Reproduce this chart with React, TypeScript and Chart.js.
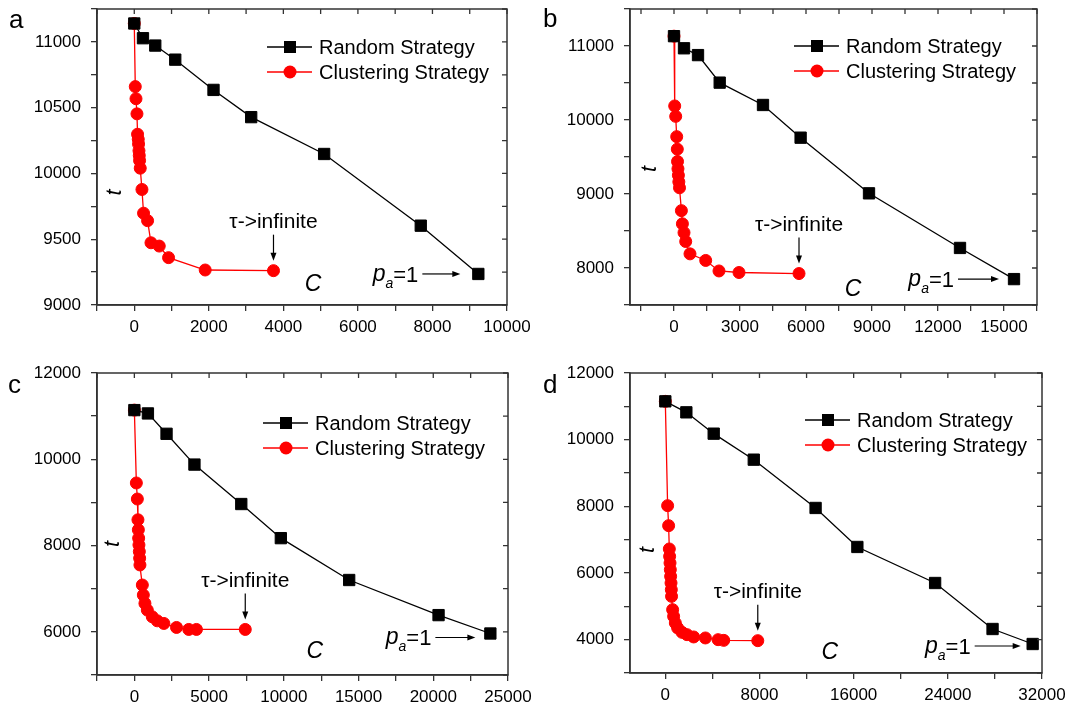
import React, { useEffect, useRef } from 'react';
import { Chart, registerables } from 'chart.js';

Chart.register(...registerables);

// ---------- DATA ----------
// Panel a
const aRandomC = [0, 233, 563, 1099, 2126, 3137, 5094, 7686, 9231];
const aRandomT = [11140, 11028, 10972, 10865, 10635, 10428, 10148, 9603, 9236];
const aClusterC = [0, 27, 46, 72, 88, 107, 115, 126, 134, 142, 160, 206, 249, 357, 448, 670, 920, 1903, 3735];
const aClusterT = [11140, 10660, 10568, 10453, 10298, 10260, 10223, 10173, 10136, 10098, 10040, 9878, 9698, 9641, 9473, 9448, 9360, 9266, 9261];
const aXTickLabels = [0, 2000, 4000, 6000, 8000, 10000];
const aYTickLabels = [9000, 9500, 10000, 10500, 11000];

// Panel b
const bRandomC = [0, 455, 1091, 2077, 4045, 5755, 8864, 13000, 15455];
const bRandomT = [11133, 10969, 10877, 10505, 10203, 9761, 9009, 8271, 7850];
const bClusterC = [0, 32, 77, 123, 150, 160, 180, 200, 220, 250, 336, 382, 455, 532, 727, 1441, 2045, 2955, 5682];
const bClusterT = [11133, 10190, 10049, 9775, 9606, 9439, 9341, 9253, 9164, 9084, 8775, 8597, 8478, 8358, 8191, 8102, 7960, 7939, 7925];
const bXTickLabels = [0, 3000, 6000, 9000, 12000, 15000];
const bYTickLabels = [8000, 9000, 10000, 11000];

// Panel c
const cRandomC = [0, 907, 2153, 4020, 7153, 9800, 14373, 20353, 23820];
const cRandomT = [11140, 11063, 10591, 9877, 8963, 8172, 7202, 6388, 5962];
const cClusterC = [0, 133, 200, 240, 267, 287, 307, 333, 353, 373, 533, 600, 707, 867, 1200, 1533, 1973, 2820, 3640, 4153, 7420];
const cClusterT = [11140, 9451, 9079, 8598, 8365, 8172, 8016, 7860, 7707, 7551, 7086, 6853, 6660, 6505, 6349, 6256, 6195, 6102, 6056, 6056, 6056];
const cXTickLabels = [0, 5000, 10000, 15000, 20000, 25000];
const cYTickLabels = [6000, 8000, 10000, 12000];

// Panel d
const dRandomC = [0, 1787, 4110, 7515, 12766, 16315, 22920, 27800, 31207];
const dRandomT = [11150, 10820, 10180, 9400, 7951, 6781, 5700, 4320, 3870];
const dClusterC = [0, 196, 281, 340, 366, 400, 426, 451, 485, 511, 530, 621, 706, 851, 1047, 1421, 1847, 2409, 3404, 4485, 4962, 7855];
const dClusterT = [11150, 8020, 7420, 6721, 6499, 6301, 6100, 5899, 5701, 5500, 5299, 4900, 4699, 4501, 4351, 4219, 4150, 4081, 4051, 4000, 3979, 3970];
const dXTickLabels = [0, 8000, 16000, 24000, 32000];
const dYTickLabels = [4000, 6000, 8000, 10000, 12000];

const seriesNames = ['Random Strategy', 'Clustering Strategy'];
const panelLetters = ['a', 'b', 'c', 'd'];
const tauLabel = 'τ->infinite';

// ---------- STYLE / LAYOUT ----------
const FONT = '"Liberation Sans", Arial, Helvetica, sans-serif';
const AXIS_COLOR = '#333333';
const RED = '#ff0000';

type Panel = {
  letter: string;
  left: number; top: number; width: number; height: number;
  padTop: number; padRight: number; yW: number; xH: number;
  xMin: number; xMax: number; xStep: number; xLabels: number[];
  yMin: number; yMax: number; yStep: number; yLabels: number[];
  rC: number[]; rT: number[]; cC: number[]; cT: number[];
  legendX: number; legendY: number;
  cFracX: number; cUp: number; tX: number; tFracY: number;
  paDx: number; paArrowEnd: number; paDy: number;
  letterX: number; letterY: number;
};

const panels: Panel[] = [
  {
    letter: panelLetters[0], left: 0, top: 0, width: 537, height: 354,
    padTop: 3, padRight: 30, yW: 97, xH: 49,
    xMin: -1000, xMax: 10000, xStep: 1000, xLabels: aXTickLabels,
    yMin: 9000, yMax: 11250, yStep: 250, yLabels: aYTickLabels,
    rC: aRandomC, rT: aRandomT, cC: aClusterC, cT: aClusterT,
    legendX: 170, legendY: 38, cFracX: 0.527, cUp: 20, tX: 18, tFracY: 0.62,
    paDx: 60, paArrowEnd: 18, paDy: 0, letterX: 9, letterY: 28,
  },
  {
    letter: panelLetters[1], left: 537, top: 0, width: 537, height: 354,
    padTop: 3, padRight: 37, yW: 93, xH: 49,
    xMin: -2000, xMax: 16500, xStep: 1500, xLabels: bXTickLabels,
    yMin: 7500, yMax: 11500, yStep: 500, yLabels: bYTickLabels,
    rC: bRandomC, rT: bRandomT, cC: bClusterC, cT: bClusterT,
    legendX: 164, legendY: 37, cFracX: 0.548, cUp: 15, tX: 20, tFracY: 0.54,
    paDx: 60, paArrowEnd: 15, paDy: 0, letterX: 6, letterY: 27,
  },
  {
    letter: panelLetters[2], left: 0, top: 354, width: 537, height: 355,
    padTop: 19, padRight: 29, yW: 97, xH: 34,
    xMin: -2500, xMax: 25000, xStep: 2500, xLabels: cXTickLabels,
    yMin: 5000, yMax: 12000, yStep: 1000, yLabels: cYTickLabels,
    rC: cRandomC, rT: cRandomT, cC: cClusterC, cT: cClusterT,
    legendX: 166, legendY: 50, cFracX: 0.53, cUp: 23, tX: 16, tFracY: 0.566,
    paDx: 59, paArrowEnd: 15, paDy: 4, letterX: 8, letterY: 39,
  },
  {
    letter: panelLetters[3], left: 537, top: 354, width: 537, height: 355,
    padTop: 19, padRight: 32, yW: 93, xH: 36,
    xMin: -3000, xMax: 32000, xStep: 4000, xLabels: dXTickLabels,
    yMin: 3000, yMax: 12000, yStep: 1000, yLabels: dYTickLabels,
    rC: dRandomC, rT: dRandomT, cC: dClusterC, cT: dClusterT,
    legendX: 175, legendY: 47, cFracX: 0.485, cUp: 20, tX: 18, tFracY: 0.59,
    paDx: 62, paArrowEnd: 12, paDy: 2, letterX: 6, letterY: 39,
  },
];

function makeTicks(min: number, max: number, step: number) {
  const out: { value: number }[] = [];
  for (let v = Math.ceil(min / step) * step; v <= max + 1e-6; v += step) out.push({ value: v });
  return out;
}

function arrow(ctx: CanvasRenderingContext2D, x1: number, y1: number, x2: number, y2: number) {
  const ang = Math.atan2(y2 - y1, x2 - x1);
  const head = 8;
  ctx.beginPath();
  ctx.moveTo(x1, y1);
  ctx.lineTo(x2 - Math.cos(ang) * head * 0.8, y2 - Math.sin(ang) * head * 0.8);
  ctx.stroke();
  ctx.beginPath();
  ctx.moveTo(x2, y2);
  ctx.lineTo(x2 - head * Math.cos(ang) + 3 * Math.sin(ang), y2 - head * Math.sin(ang) - 3 * Math.cos(ang));
  ctx.lineTo(x2 - head * Math.cos(ang) - 3 * Math.sin(ang), y2 - head * Math.sin(ang) + 3 * Math.cos(ang));
  ctx.closePath();
  ctx.fill();
}

function makePlugin(p: Panel) {
  return {
    id: 'decor' + p.letter,
    afterDraw(chart: any) {
      const ctx: CanvasRenderingContext2D = chart.ctx;
      const area = chart.chartArea;
      const xs = chart.scales.x;
      const ys = chart.scales.y;
      ctx.save();
      // frame
      ctx.strokeStyle = AXIS_COLOR;
      ctx.lineWidth = 1.5;
      ctx.strokeRect(area.left, area.top, area.right - area.left, area.bottom - area.top);
      // inward mirror ticks
      ctx.lineWidth = 1.3;
      ctx.beginPath();
      xs.ticks.forEach((t: any) => {
        const px = xs.getPixelForValue(t.value);
        ctx.moveTo(px, area.top);
        ctx.lineTo(px, area.top + 5);
      });
      ys.ticks.forEach((t: any) => {
        const py = ys.getPixelForValue(t.value);
        ctx.moveTo(area.right, py);
        ctx.lineTo(area.right - 5, py);
      });
      ctx.stroke();

      // legend
      const lx = area.left + p.legendX;
      const ly = area.top + p.legendY;
      const rows = [
        { color: '#000000', shape: 'rect' },
        { color: RED, shape: 'circle' },
      ];
      rows.forEach((r, i) => {
        const y = ly + i * 25;
        ctx.strokeStyle = r.color;
        ctx.fillStyle = r.color;
        ctx.lineWidth = 1.3;
        ctx.beginPath();
        ctx.moveTo(lx, y);
        ctx.lineTo(lx + 45, y);
        ctx.stroke();
        const cx = lx + 23;
        if (r.shape === 'rect') {
          ctx.fillRect(cx - 6, y - 6, 12, 12);
        } else {
          ctx.beginPath();
          ctx.arc(cx, y, 6.5, 0, Math.PI * 2);
          ctx.fill();
        }
        ctx.fillStyle = '#000';
        ctx.font = `20px ${FONT}`;
        ctx.textAlign = 'left';
        ctx.textBaseline = 'middle';
        ctx.fillText(seriesNames[i], lx + 52, y + 1);
      });

      ctx.fillStyle = '#000';
      ctx.strokeStyle = '#000';
      ctx.lineWidth = 1.2;

      // tau annotation above last clustering point
      const lastCi = p.cC.length - 1;
      const tx = xs.getPixelForValue(p.cC[lastCi]);
      const ty = ys.getPixelForValue(p.cT[lastCi]);
      ctx.font = `21px ${FONT}`;
      ctx.textAlign = 'center';
      ctx.textBaseline = 'middle';
      ctx.fillText(tauLabel, tx, ty - 48);
      arrow(ctx, tx, ty - 36, tx, ty - 10);

      // p_a = 1 annotation left of last random point
      const lastRi = p.rC.length - 1;
      const rx = xs.getPixelForValue(p.rC[lastRi]);
      const ry = ys.getPixelForValue(p.rT[lastRi]) + p.paDy;
      arrow(ctx, rx - p.paDx + 4, ry, rx - p.paArrowEnd, ry);
      ctx.textBaseline = 'alphabetic';
      ctx.textAlign = 'left';
      ctx.font = `22px ${FONT}`;
      const eqW = ctx.measureText('=1').width;
      ctx.font = `italic 14px ${FONT}`;
      const aW = ctx.measureText('a').width;
      ctx.font = `italic 23px ${FONT}`;
      const pW = ctx.measureText('p').width;
      const endX = rx - p.paDx;
      const startX = endX - eqW - aW - pW;
      ctx.fillText('p', startX, ry + 7);
      ctx.font = `italic 14px ${FONT}`;
      ctx.fillText('a', startX + pW, ry + 14);
      ctx.font = `22px ${FONT}`;
      ctx.fillText('=1', startX + pW + aW, ry + 8);

      // axis titles inside the plot
      ctx.font = `italic 23px ${FONT}`;
      ctx.textAlign = 'center';
      ctx.textBaseline = 'middle';
      ctx.fillText('C', area.left + p.cFracX * (area.right - area.left), area.bottom - p.cUp);
      ctx.save();
      ctx.translate(area.left + p.tX, area.top + p.tFracY * (area.bottom - area.top));
      ctx.rotate(-Math.PI / 2);
      ctx.font = `italic 22px ${FONT}`;
      ctx.fillText('t', 0, 0);
      ctx.restore();

      // panel letter
      ctx.font = `26px ${FONT}`;
      ctx.textAlign = 'left';
      ctx.textBaseline = 'alphabetic';
      ctx.fillText(p.letter, p.letterX, p.letterY);
      ctx.restore();
    },
  };
}

function PanelChart({ p }: { p: Panel }) {
  const ref = useRef<HTMLCanvasElement>(null);
  useEffect(() => {
    if (!ref.current) return;
    const tickFont = { family: FONT, size: 17 };
    const chart = new Chart(ref.current, {
      type: 'scatter',
      data: {
        datasets: [
          {
            label: seriesNames[0],
            data: p.rC.map((c, i) => ({ x: c, y: p.rT[i] })),
            showLine: true,
            borderColor: '#000000',
            backgroundColor: '#000000',
            borderWidth: 1.3,
            pointStyle: 'rect',
            pointRadius: 8,
            pointBorderWidth: 1,
            pointBorderColor: '#000000',
            pointBackgroundColor: '#000000',
          },
          {
            label: seriesNames[1],
            data: p.cC.map((c, i) => ({ x: c, y: p.cT[i] })),
            showLine: true,
            borderColor: RED,
            backgroundColor: RED,
            borderWidth: 1.3,
            pointStyle: 'circle',
            pointRadius: 6,
            pointBorderWidth: 1,
            pointBorderColor: RED,
            pointBackgroundColor: RED,
          },
        ],
      },
      options: {
        responsive: false,
        animation: false,
        devicePixelRatio: 1,
        layout: { padding: { top: p.padTop, right: p.padRight, left: 0, bottom: 0 } },
        plugins: { legend: { display: false }, tooltip: { enabled: false } },
        scales: {
          x: {
            type: 'linear',
            min: p.xMin,
            max: p.xMax,
            afterBuildTicks: (s: any) => { s.ticks = makeTicks(p.xMin, p.xMax, p.xStep); },
            afterFit: (s: any) => {
              s.height = p.xH;
              s.paddingLeft = 0;
              s.paddingRight = 0;
            },
            ticks: {
              autoSkip: false,
              maxRotation: 0,
              color: '#000',
              font: tickFont,
              padding: 6,
              callback: (v: any) => (p.xLabels.includes(Number(v)) ? String(v) : ''),
            },
            grid: { drawOnChartArea: false, tickLength: 6, color: AXIS_COLOR, lineWidth: 1.3 },
            border: { color: AXIS_COLOR, width: 1.5 },
          },
          y: {
            type: 'linear',
            min: p.yMin,
            max: p.yMax,
            afterBuildTicks: (s: any) => { s.ticks = makeTicks(p.yMin, p.yMax, p.yStep); },
            afterFit: (s: any) => {
              s.width = p.yW;
              s.paddingTop = 0;
              s.paddingBottom = 0;
            },
            ticks: {
              autoSkip: false,
              color: '#000',
              font: tickFont,
              padding: 10,
              callback: (v: any) => (p.yLabels.includes(Number(v)) ? String(v) : ''),
            },
            grid: { drawOnChartArea: false, tickLength: 6, color: AXIS_COLOR, lineWidth: 1.3 },
            border: { color: AXIS_COLOR, width: 1.5 },
          },
        },
      } as any,
      plugins: [makePlugin(p)],
    });
    return () => chart.destroy();
  }, [p]);
  return (
    <canvas
      ref={ref}
      width={p.width}
      height={p.height}
      style={{ position: 'absolute', left: p.left, top: p.top, width: p.width, height: p.height }}
    />
  );
}

export default function App() {
  return (
    <div style={{ position: 'absolute', left: 0, top: 0, width: 1074, height: 709, background: '#ffffff', overflow: 'hidden' }}>
      {panels.map((p) => (
        <PanelChart key={p.letter} p={p} />
      ))}
    </div>
  );
}
